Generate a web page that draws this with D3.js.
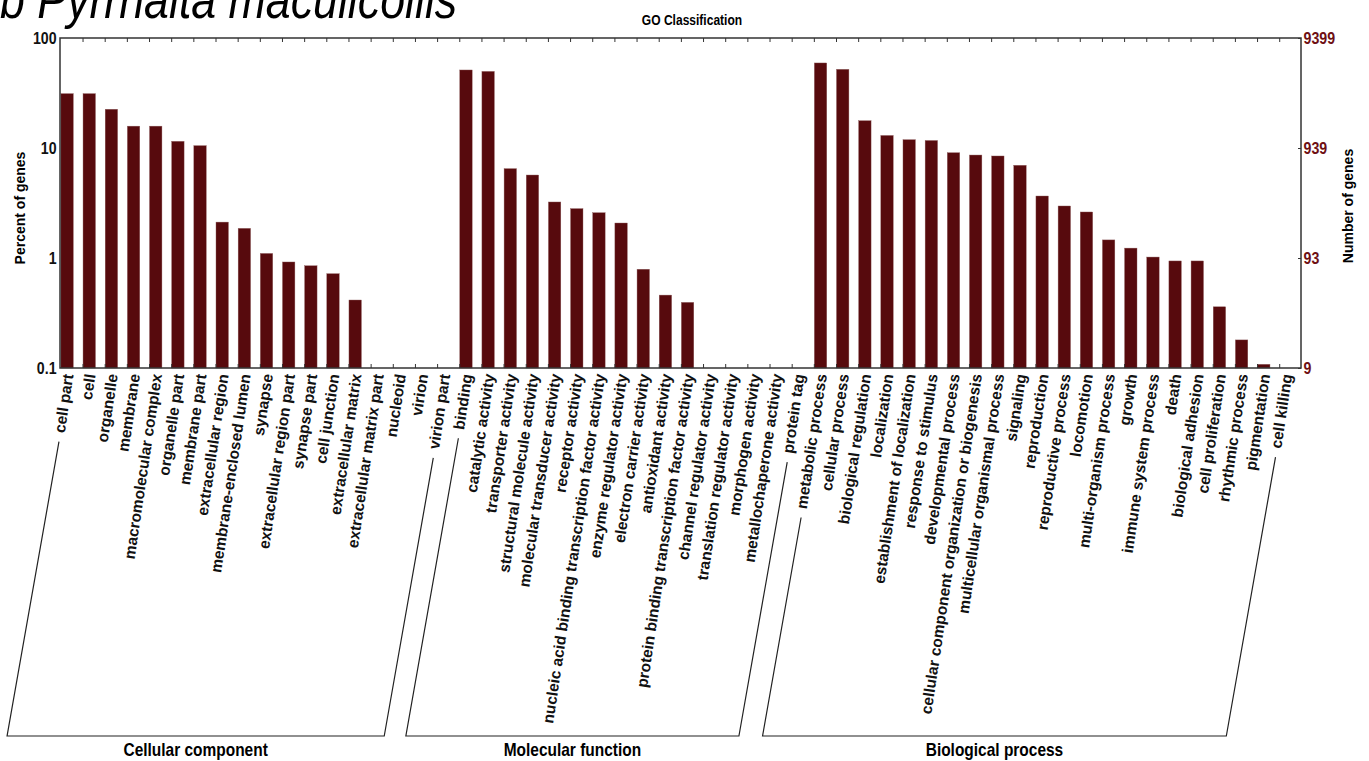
<!DOCTYPE html>
<html>
<head>
<meta charset="utf-8">
<script src="https://cdn.jsdelivr.net/npm/d3@7"></script>
<style>
  body { margin: 0; background: #fff; }
  text { font-family: "Liberation Sans", Arial, sans-serif; }
</style>
</head>
<body>
<script>
const ccTerms = ["cell part", "cell", "organelle", "membrane", "macromolecular complex",
  "organelle part", "membrane part", "extracellular region", "membrane-enclosed lumen",
  "synapse", "extracellular region part", "synapse part", "cell junction",
  "extracellular matrix", "extracellular matrix part", "nucleoid", "virion", "virion part"];
const ccPercent = [31.2, 31.2, 22.5, 15.8, 15.8, 11.5, 10.5, 2.12, 1.86, 1.1, 0.92, 0.85,
  0.72, 0.415, 0, 0, 0, 0];

const mfTerms = ["binding", "catalytic activity", "transporter activity",
  "structural molecule activity", "molecular transducer activity", "receptor activity",
  "nucleic acid binding transcription factor activity", "enzyme regulator activity",
  "electron carrier activity", "antioxidant activity",
  "protein binding transcription factor activity", "channel regulator activity",
  "translation regulator activity", "morphogen activity", "metallochaperone activity",
  "protein tag"];
const mfPercent = [51.2, 49.7, 6.49, 5.68, 3.23, 2.81, 2.58, 2.08, 0.79, 0.46, 0.395,
  0, 0, 0, 0, 0];

const bpTerms = ["metabolic process", "cellular process", "biological regulation",
  "localization", "establishment of localization", "response to stimulus",
  "developmental process", "cellular component organization or biogenesis",
  "multicellular organismal process", "signaling", "reproduction", "reproductive process",
  "locomotion", "multi-organism process", "growth", "immune system process", "death",
  "biological adhesion", "cell proliferation", "rhythmic process", "pigmentation",
  "cell killing"];
const bpPercent = [59.3, 51.9, 17.7, 13.0, 11.9, 11.7, 9.06, 8.63, 8.46, 6.96, 3.66, 2.97,
  2.62, 1.46, 1.23, 1.02, 0.94, 0.94, 0.36, 0.18, 0.108, 0];

const groupNames = ["Cellular component", "Molecular function", "Biological process"];
const leftTicks = [0.1, 1, 10, 100];
const totalGenes = 9399;

const W = 1369, H = 761;
const box = { l: 60, r: 1301, t: 38, b: 368 };
const barColor = "#570a0d";
const tilt = -81.5;

const rows = [];
[[ccTerms, ccPercent], [mfTerms, mfPercent], [bpTerms, bpPercent]].forEach(([t, v], g) => {
  t.forEach((term, i) => rows.push({ term, pct: v[i], group: g }));
});

const svg = d3.select("body").append("svg").attr("width", W).attr("height", H);

const x = d3.scaleBand()
  .domain(rows.map((d) => d.term))
  .range([56, 1297])
  .paddingInner(0.44)
  .paddingOuter(0.22);

const y = d3.scaleLog().domain([0.1, 100]).range([box.b, box.t]);
const yRight = d3.scaleLog()
  .domain([totalGenes / 1000, totalGenes])
  .range([box.b, box.t]);

// bars
svg.append("g")
  .selectAll("rect")
  .data(rows.filter((d) => d.pct > 0))
  .join("rect")
  .attr("x", (d) => x(d.term))
  .attr("y", (d) => y(d.pct))
  .attr("width", x.bandwidth())
  .attr("height", (d) => box.b - y(d.pct))
  .attr("fill", barColor)
  .attr("stroke", "#8c5a5a")
  .attr("stroke-width", 0.4);

// frame
svg.append("rect")
  .attr("x", box.l).attr("y", box.t)
  .attr("width", box.r - box.l).attr("height", box.b - box.t)
  .attr("fill", "none").attr("stroke", "#333").attr("stroke-width", 1.5);

// small ticks top and bottom at band starts
const tickG = svg.append("g").attr("stroke", "#333").attr("stroke-width", 1);
rows.slice(1).forEach((d) => {
  tickG.append("line").attr("x1", x(d.term)).attr("x2", x(d.term))
    .attr("y1", box.b).attr("y2", box.b - 4);
  tickG.append("line").attr("x1", x(d.term)).attr("x2", x(d.term))
    .attr("y1", box.t).attr("y2", box.t + 4);
});

// left axis
const leftAxis = svg.append("g")
  .attr("transform", `translate(${box.l},0)`)
  .call(d3.axisLeft(y).tickValues(leftTicks).tickSize(0).tickPadding(4)
    .tickFormat(d3.format("~g")));
leftAxis.select(".domain").remove();
leftAxis.selectAll("text")
  .attr("font-size", 16.5).attr("font-weight", "bold").attr("fill", "#111")
  .attr("transform", "scale(0.86,1)");

// right axis
const rightAxis = svg.append("g")
  .attr("transform", `translate(${box.r},0)`)
  .call(d3.axisRight(yRight)
    .tickValues([totalGenes / 1000, totalGenes / 100, totalGenes / 10, totalGenes])
    .tickSize(-3).tickPadding(3)
    .tickFormat((d) => Math.floor(d)));
rightAxis.select(".domain").remove();
rightAxis.selectAll("line").attr("stroke", "#333");
rightAxis.selectAll("text")
  .attr("font-size", 16.5).attr("font-weight", "bold").attr("fill", "#6e1014")
  .attr("transform", "scale(0.86,1)");

// axis titles
svg.append("text")
  .attr("transform", "translate(20,208) rotate(-90)")
  .attr("text-anchor", "middle").attr("dy", "0.35em")
  .attr("font-size", 14).attr("font-weight", "bold")
  .text("Percent of genes");
svg.append("text")
  .attr("transform", "translate(1348,206) rotate(-90)")
  .attr("text-anchor", "middle").attr("dy", "0.35em")
  .attr("font-size", 14).attr("font-weight", "bold")
  .text("Number of genes");

// titles
svg.append("text")
  .attr("transform", "translate(692,25) scale(0.86,1)")
  .attr("text-anchor", "middle")
  .attr("font-size", 14).attr("font-weight", "bold")
  .text("GO Classification");
svg.append("text")
  .attr("transform", "translate(0,18) scale(0.86,1)")
  .attr("font-size", 52).attr("font-style", "italic")
  .text("b Pyrrhalta maculicollis");

// category labels
const labelY = box.b + 6;
const labels = svg.append("g")
  .selectAll("text")
  .data(rows)
  .join("text")
  .attr("transform", (d) => `translate(${x(d.term) + x.bandwidth() / 2 + 1},${labelY}) rotate(${tilt})`)
  .attr("text-anchor", "end")
  .attr("dy", "0.35em")
  .attr("font-size", 15.5).attr("font-weight", "bold").attr("fill", "#111")
  .text((d) => d.term);

// group brackets
const rad = (tilt * Math.PI) / 180;
const dir = [Math.cos(rad), Math.sin(rad)];
const lean = Math.tan((10 * Math.PI) / 180);
const baseY = 736;
const labelLen = {};
labels.each(function (d) { labelLen[d.term] = this.getComputedTextLength(); });

const endOf = (term) => {
  const len = labelLen[term] + 9;
  const cx = x(term) + x.bandwidth() / 2 + 2;
  return [cx - dir[0] * len, labelY - dir[1] * len];
};

groupNames.forEach((name, g) => {
  const terms = rows.filter((d) => d.group === g).map((d) => d.term);
  const a = endOf(terms[0]);
  const b = endOf(terms[terms.length - 1]);
  const a0 = a[0] - (baseY - a[1]) * lean;
  const b0 = b[0] - (baseY - b[1]) * lean;
  svg.append("path")
    .attr("d", d3.line()([a, [a0, baseY], [b0, baseY], b]))
    .attr("fill", "none").attr("stroke", "#222").attr("stroke-width", 1.2);
  svg.append("text")
    .attr("transform", `translate(${(a0 + b0) / 2},750) scale(0.86,1)`)
    .attr("text-anchor", "middle").attr("dy", "0.35em")
    .attr("font-size", 18).attr("font-weight", "bold")
    .text(name);
});
</script>
</body>
</html>
